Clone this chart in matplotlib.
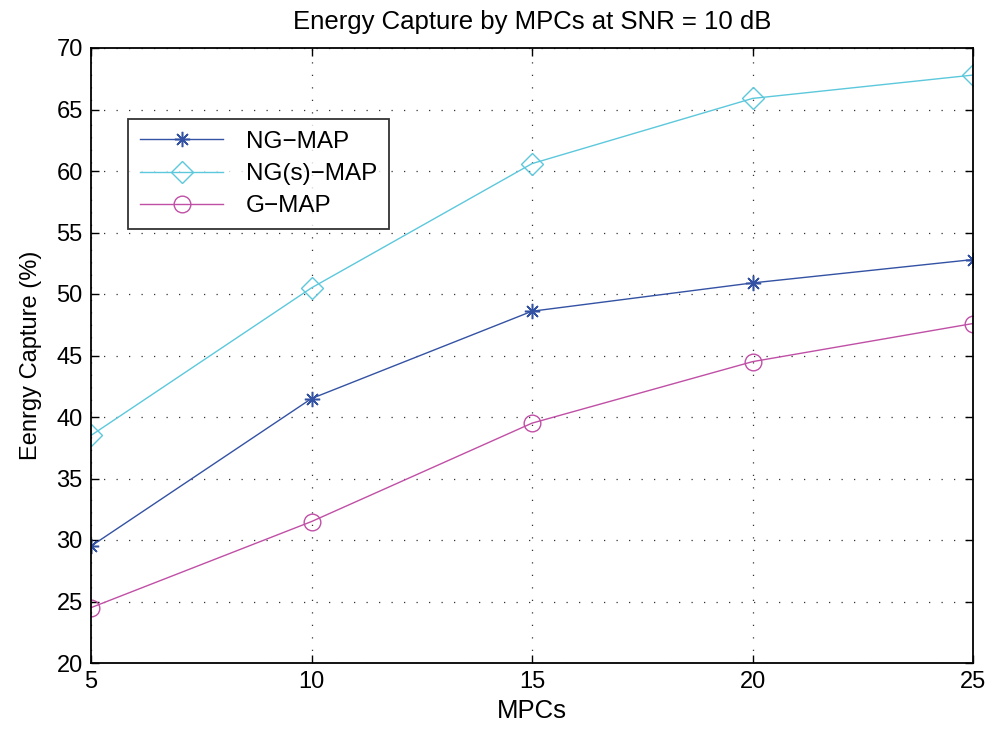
import matplotlib
matplotlib.use("Agg")
import matplotlib.pyplot as plt

plt.rcParams['font.family'] = ['Liberation Sans', 'DejaVu Sans']

mpcs = [5, 10, 15, 20, 25]
ng_map = [29.5, 41.5, 48.6, 50.9, 52.8]
ngs_map = [38.5, 50.5, 60.6, 65.9, 67.8]
g_map = [24.5, 31.5, 39.5, 44.5, 47.6]
xticks = [5, 10, 15, 20, 25]
yticks = [20, 25, 30, 35, 40, 45, 50, 55, 60, 65, 70]

fig = plt.figure(figsize=(9.92, 7.30), dpi=100)
ax = fig.add_axes([91/992, 1-663/730, (973-91)/992, (663-48)/730])

ax.plot(mpcs, ng_map, color='#3452a4', lw=1.0, marker=(8, 2, 0), ms=11, mec='#3452a4', mew=1.1, label='NG\u2212MAP')
ax.plot(mpcs, ngs_map, color='#5cc8dc', lw=1.0, marker='D', ms=11, mfc='none', mec='#5cc8dc', mew=1.0, label='NG(s)\u2212MAP')
ax.plot(mpcs, g_map, color='#c04fa6', lw=1.0, marker='o', ms=12, mfc='none', mec='#c04fa6', mew=1.0, label='G\u2212MAP')

ax.set_xlim(5, 25)
ax.set_ylim(20, 70)
ax.set_xticks(xticks)
ax.set_yticks(yticks)
ax.tick_params(direction='in', labelsize=17, length=6, width=1, top=True, right=True, pad=6)
ax.grid(True, linestyle=(0, (1, 9)), color='#333333', lw=0.9)
for s in ax.spines.values():
    s.set_linewidth(1.3)

ax.set_title('Energy Capture by MPCs at SNR = 10 dB', fontsize=18.5, pad=14)
ax.set_xlabel('MPCs', fontsize=18.5, labelpad=4)
ax.set_ylabel('Eenrgy Capture (%)', fontsize=17, labelpad=10)

leg = ax.legend(loc='upper left', bbox_to_anchor=(0.042, 0.885), borderaxespad=0, fontsize=17.5, frameon=True,
                fancybox=False, edgecolor='black', handlelength=3.4, handletextpad=0.95,
                borderpad=0.5, labelspacing=0.42)
leg.get_frame().set_linewidth(1.3)

fig.savefig('out.png', dpi=100)
